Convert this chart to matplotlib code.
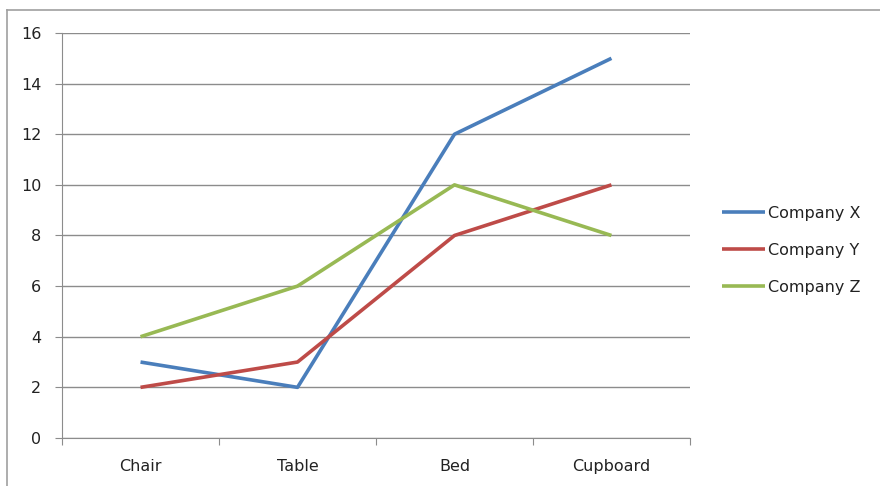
import matplotlib.pyplot as plt
from matplotlib.lines import Line2D

categories = ['Chair', 'Table', 'Bed', 'Cupboard']
company_x = [3, 2, 12, 15]
company_y = [2, 3, 8, 10]
company_z = [4, 6, 10, 8]
series_names = ['Company X', 'Company Y', 'Company Z']
colors = ['#4A7EBB', '#BE4B48', '#98B954']

fig = plt.figure(figsize=(8.8, 4.86), dpi=100)
ax = fig.add_axes([0.0705, 0.0988, 0.7135, 0.8333])

pos = list(range(len(categories)))
for vals, name, c in zip([company_x, company_y, company_z], series_names, colors):
	ax.plot(pos, vals, color=c, lw=2.6, label=name, solid_capstyle='butt')

ax.set_xlim(-0.5, len(categories) - 0.5)
ax.set_ylim(0, 16)
ax.set_yticks(range(0, 17, 2))
ax.yaxis.grid(True, color='#8c8c8c', lw=1)
ax.set_axisbelow(True)

# category ticks sit between the labels, like excel
ax.set_xticks([i - 0.5 for i in range(len(categories) + 1)])
ax.set_xticklabels([])
ax.set_xticks(pos, minor=True)
ax.set_xticklabels(categories, minor=True)
ax.tick_params(axis='x', which='minor', length=0, pad=15, labelsize=11.5, labelcolor='#222222')
ax.tick_params(axis='x', which='major', length=5, color='#8c8c8c')
ax.tick_params(axis='y', length=5, color='#8c8c8c', labelsize=11.5, pad=10, labelcolor='#222222')

for s in ['top', 'right']:
	ax.spines[s].set_visible(False)
for s in ['left', 'bottom']:
	ax.spines[s].set_color('#8c8c8c')

leg = ax.legend(loc='center left', bbox_to_anchor=(1.028, 0.464), frameon=False,
	fontsize=11.5, handlelength=2.7, handletextpad=0.2, labelspacing=1.375)
for t in leg.get_texts():
	t.set_color('#222222')

# outer chart border (cropped)
fig.add_artist(Line2D([0.008, 1.0], [0.979, 0.979], transform=fig.transFigure, color='#a0a0a0', lw=1.2))
fig.add_artist(Line2D([0.008, 0.008], [0.0, 0.979], transform=fig.transFigure, color='#a0a0a0', lw=1.2))

fig.savefig('out.png', dpi=100)
